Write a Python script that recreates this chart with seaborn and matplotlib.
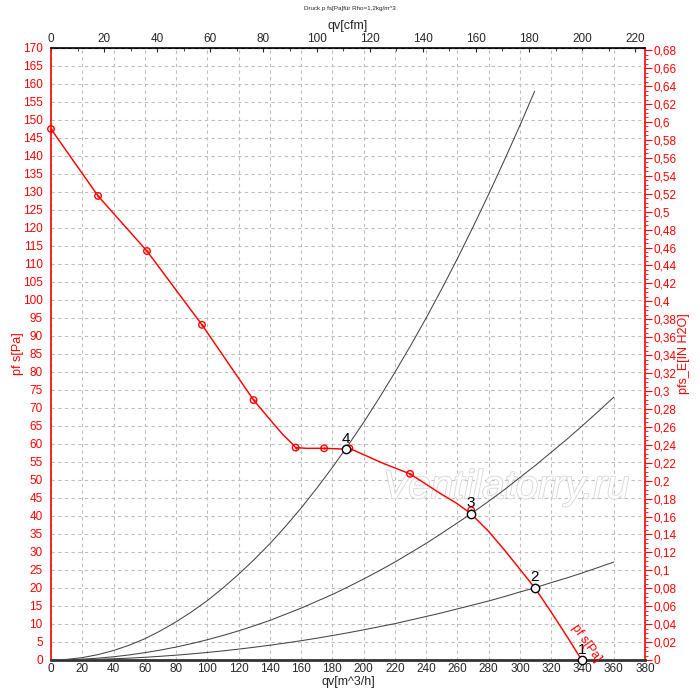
import matplotlib
matplotlib.use("Agg")
import numpy as np
import pandas as pd
import seaborn as sns
import matplotlib.pyplot as plt
import matplotlib.patheffects as pe
from matplotlib.ticker import MultipleLocator, FuncFormatter

# fan curve p_fs over qv
fan_q = [0, 30.1, 61.4, 96.6, 129.6, 135.8, 142.2, 148.6, 154, 156.5, 163.6, 174.7,
         187, 190.9, 212.6, 229.7, 248.9, 259.6, 268.5, 280, 290, 300, 309.4,
         320, 330, 339.5]
fan_p = [147.5, 128.9, 113.6, 93.1, 72.2, 69.0, 65.7, 62.5, 60.2, 59.0, 58.8, 58.8,
         58.6, 58.8, 54.6, 51.7, 46.3, 43.5, 40.7, 35.7, 30.6, 25.2, 20.1,
         13.3, 6.6, 0.0]

# measured points on the fan curve (red)
meas_q = [0, 30.1, 61.4, 96.6, 129.6, 156.5, 174.7, 190.9, 229.7, 268.8]
meas_p = [147.5, 128.9, 113.6, 93.1, 72.2, 59.0, 58.8, 58.8, 51.7, 41.6]

# system curves (black)
sys_q = [0, 10, 20, 30, 40, 50, 60, 70, 80, 90, 100, 110, 120, 130, 140, 150, 160,
         170, 180, 190, 200, 210, 220, 230, 240, 250, 260, 270, 280, 290, 300, 310,
         320, 330, 340, 350, 360]
sys4_q = sys_q[:31] + [309.4]
sys4_p = [0, 0.17, 0.66, 1.49, 2.64, 4.1, 5.9, 8.1, 10.6, 13.4, 16.5, 20.0, 23.8,
          27.9, 32.3, 37.1, 42.2, 47.7, 53.5, 59.6, 66.0, 72.8, 79.9, 87.3, 95.0,
          103.1, 111.5, 120.3, 129.4, 138.8, 148.5, 158.0]
sys3_p = [0, 0.06, 0.23, 0.51, 0.9, 1.41, 2.03, 2.76, 3.6, 4.56, 5.63, 6.81, 8.1,
          9.5, 11.0, 12.7, 14.4, 16.3, 18.2, 20.3, 22.5, 24.8, 27.2, 29.8, 32.4,
          35.2, 38.1, 41.0, 44.1, 47.3, 50.7, 54.1, 57.7, 61.3, 65.1, 69.0, 73.0]
sys2_p = [0, 0.02, 0.08, 0.19, 0.34, 0.52, 0.75, 1.03, 1.34, 1.7, 2.1, 2.53, 3.02,
          3.54, 4.1, 4.71, 5.36, 6.05, 6.79, 7.56, 8.38, 9.24, 10.1, 11.1, 12.1,
          13.1, 14.2, 15.3, 16.4, 17.6, 18.9, 20.1, 21.5, 22.8, 24.2, 25.7, 27.2]

# operating points
op_labels = ["1", "2", "3", "4"]
op_q = [339.5, 309.4, 268.5, 188.5]
op_p = [0.0, 20.1, 40.6, 58.6]

RED = "#ff0000"

sns.set_style("white")
plt.rcParams["font.family"] = ["Liberation Sans", "DejaVu Sans"]

fig = plt.figure(figsize=(7.0, 6.94), dpi=100)
ax = fig.add_axes([51 / 700, 34 / 694, 594 / 700, 612 / 694])

curves = [
    pd.DataFrame({"q": sys4_q, "p": sys4_p}),
    pd.DataFrame({"q": sys_q, "p": sys3_p}),
    pd.DataFrame({"q": sys_q, "p": sys2_p}),
]
for df in curves:
    sns.lineplot(data=df, x="q", y="p", ax=ax, color="#444444", linewidth=0.75,
                 estimator=None, sort=False, zorder=3)

fan = pd.DataFrame({"q": fan_q, "p": fan_p})
sns.lineplot(data=fan, x="q", y="p", ax=ax, color=RED, linewidth=1.05,
             estimator=None, sort=False, zorder=4)

meas = pd.DataFrame({"q": meas_q, "p": meas_p})
sns.scatterplot(data=meas, x="q", y="p", ax=ax, s=22, facecolor="none",
                edgecolor=RED, linewidth=1.0, zorder=5, clip_on=False)
sns.scatterplot(data=meas, x="q", y="p", ax=ax, s=3, color=RED,
                linewidth=0, zorder=5, clip_on=False)

ops = pd.DataFrame({"q": op_q, "p": op_p})
sns.scatterplot(data=ops, x="q", y="p", ax=ax, s=36, facecolor="white",
                edgecolor="black", linewidth=1.0, zorder=6, clip_on=False)
for lab, q, p in zip(op_labels, op_q, op_p):
    ax.annotate(lab, (q, p), xytext=(0, 2.5), textcoords="offset points",
                ha="center", va="bottom", fontsize=11, color="black", zorder=7)

ax.text(342.5, 4.6, "pf s[Pa]", color=RED, fontsize=9, rotation=-55,
        ha="center", va="center", zorder=7)

ax.text(291, 48, "Ventilatorry.ru", fontsize=29, style="italic", color="white",
        ha="center", va="center", zorder=2,
        path_effects=[pe.withStroke(linewidth=1.2, foreground="#d6d6d6")])

ax.set_xlim(0, 380)
ax.set_ylim(0, 170)
ax.xaxis.set_major_locator(MultipleLocator(20))
ax.xaxis.set_minor_locator(MultipleLocator(5))
ax.yaxis.set_major_locator(MultipleLocator(5))
ax.yaxis.set_minor_locator(MultipleLocator(1))
ax.grid(True, which="major", color="#bdbdbd", linestyle=(0, (3, 3)), linewidth=0.8)

ax.set_xlabel("qv[m^3/h]", fontsize=9, labelpad=1)
ax.set_ylabel("pf s[Pa]", fontsize=9, color=RED, labelpad=-1)
ax.tick_params(axis="x", which="major", length=3, direction="in", labelsize=8.5, pad=2)
ax.tick_params(axis="x", which="minor", length=0)
ax.tick_params(axis="y", which="major", length=5, direction="out", colors=RED,
               labelsize=8.5, pad=1)
ax.tick_params(axis="y", which="minor", length=2.5, direction="out", colors=RED)

ax.spines["left"].set_color(RED)
ax.spines["left"].set_linewidth(1.2)
ax.spines["right"].set_visible(False)
ax.spines["bottom"].set_color("#333333")
ax.spines["bottom"].set_linewidth(2.0)
ax.spines["top"].set_color("black")
ax.spines["top"].set_linewidth(1.2)

# cfm on top
top = ax.secondary_xaxis("top", functions=(lambda v: v / 1.699, lambda v: v * 1.699))
top.xaxis.set_major_locator(MultipleLocator(20))
top.xaxis.set_minor_locator(MultipleLocator(10))
top.tick_params(which="major", length=3, direction="in", labelsize=8.5, pad=2)
top.tick_params(which="minor", length=2, direction="in")
top.set_xlabel("qv[cfm]", fontsize=9, labelpad=3)
top.spines["top"].set_color("black")

# inches of water on the right
right = ax.secondary_yaxis("right", functions=(lambda v: v / 249.089, lambda v: v * 249.089))
right.yaxis.set_major_locator(MultipleLocator(0.02))
right.yaxis.set_minor_locator(MultipleLocator(0.005))
right.yaxis.set_major_formatter(FuncFormatter(lambda v, _: f"{v:.2f}".rstrip("0").rstrip(".").replace(".", ",")))
right.tick_params(which="major", length=5, direction="out", colors=RED, labelsize=8.5, pad=1)
right.tick_params(which="minor", length=2.5, direction="out", colors=RED)
right.spines["right"].set_color(RED)
right.spines["right"].set_linewidth(1.2)
right.set_ylabel("pfs_E[IN H2O]", fontsize=9, color=RED, labelpad=1)

fig.text(0.5, 0.988, "Druck p fs[Pa]für Rho=1,2kg/m^3", fontsize=4.5,
         ha="center", va="center")

fig.savefig("out.png", dpi=100)
